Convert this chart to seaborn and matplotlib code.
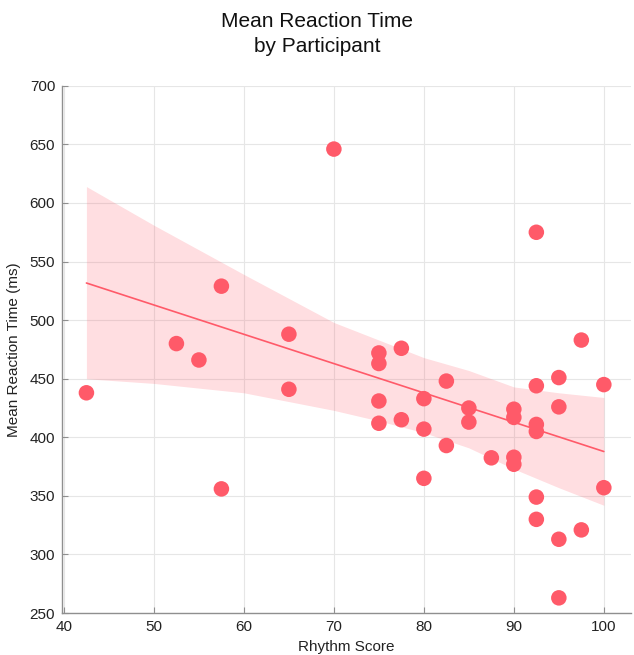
import numpy as np
import pandas as pd
import matplotlib
matplotlib.use("Agg")
import matplotlib.pyplot as plt
import seaborn as sns

# participant means
rhythm_score = [42.5, 52.5, 55, 57.5, 57.5, 65, 65, 70,
                75, 75, 75, 75, 77.5, 77.5, 80, 80, 80, 82.5, 82.5,
                85, 85, 87.5, 90, 90, 90, 90,
                92.5, 92.5, 92.5, 92.5, 92.5, 92.5,
                95, 95, 95, 95, 97.5, 97.5, 100, 100]
reaction_time = [438, 480, 466, 529, 356, 488, 441, 646,
                 472, 463, 431, 412, 476, 415, 433, 407, 365, 448, 393,
                 425, 413, 382.5, 424, 417, 383, 377,
                 575, 444, 411, 405, 349, 330,
                 451, 426, 313, 263, 483, 321, 445, 357]

# fitted trend line and its confidence band
fit_x = [42.5, 100]
fit_y = [531.7, 387.9]
band_x = [42.5, 50, 60, 70, 75, 80, 85, 90, 95, 100]
band_upper = [614, 581, 539, 498, 483, 468, 457, 443, 438, 434]
band_lower = [450, 446, 438, 423, 414, 404, 391, 373, 357, 342]

df = pd.DataFrame({"Rhythm Score": rhythm_score, "Mean Reaction Time (ms)": reaction_time})
fit_df = pd.DataFrame({"x": fit_x, "y": fit_y})

sns.set_theme(style="whitegrid")
plt.rcParams['font.family'] = ['Liberation Sans', 'DejaVu Sans']

color = "#FF5A69"
fig = plt.figure(figsize=(6.34, 6.55), dpi=100)
ax = fig.add_axes([0.098, 0.064, 0.897, 0.805])

ax.fill_between(band_x, band_lower, band_upper, color=color, alpha=0.2, lw=0, zorder=1)
sns.lineplot(data=fit_df, x="x", y="y", ax=ax, color=color, lw=1.2, zorder=2)
sns.scatterplot(data=df, x="Rhythm Score", y="Mean Reaction Time (ms)", ax=ax,
                color=color, s=125, edgecolor="none", linewidth=0, zorder=3)

ax.set_xlim(39.8, 103.0)
ax.set_ylim(250, 700)
ax.set_xticks([40, 50, 60, 70, 80, 90, 100])
ax.set_yticks(range(250, 701, 50))
ax.grid(True, color="#E6E6E6", lw=0.8)
ax.set_axisbelow(True)
for s in ["top", "right"]:
    ax.spines[s].set_visible(False)
for s in ["left", "bottom"]:
    ax.spines[s].set_color("#8F8F8F")
    ax.spines[s].set_linewidth(1.0)
ax.tick_params(direction="in", length=4, width=0.8, color="#8F8F8F",
               labelsize=11, labelcolor="#222222", left=True, bottom=True, pad=5)
ax.set_xlabel("Rhythm Score", fontsize=11, color="#222222", labelpad=4)
ax.set_ylabel("Mean Reaction Time (ms)", fontsize=11, color="#222222", labelpad=6)
fig.suptitle("Mean Reaction Time\nby Participant", fontsize=15, y=0.982,
             color="#111111", linespacing=1.4)
fig.savefig("out.png", dpi=100)
